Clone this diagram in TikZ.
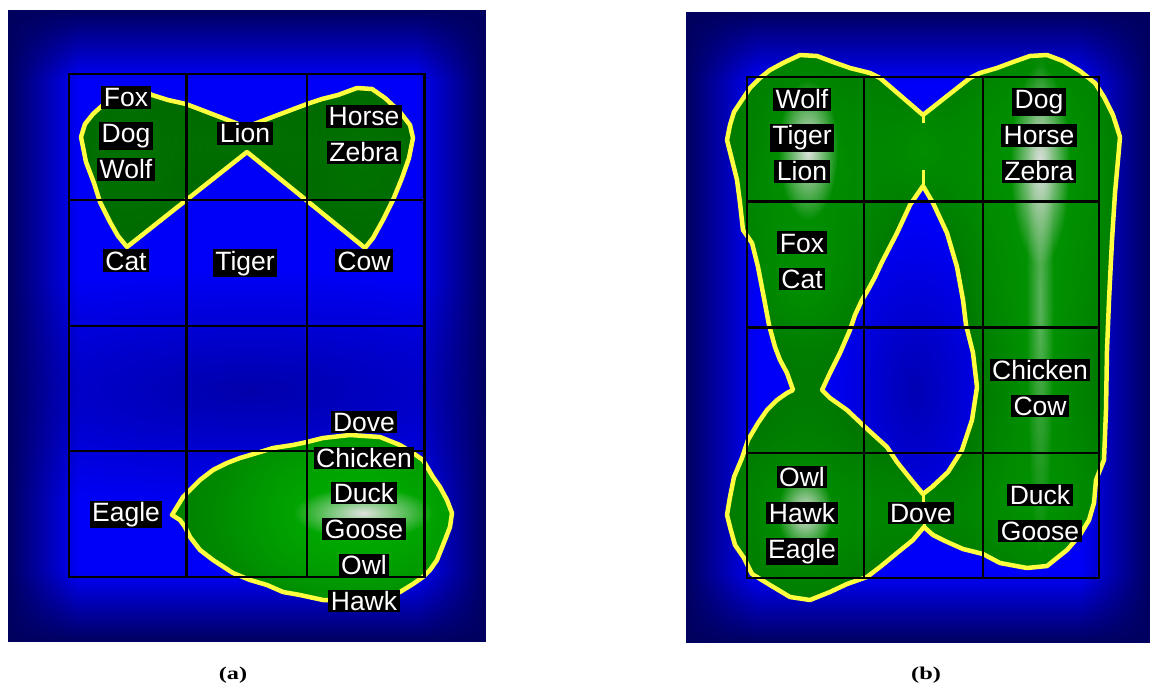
\documentclass[tikz,border=0pt]{standalone}
\usepackage{fontspec}
\setmainfont{Liberation Serif}
\newfontfamily\lblfont{Liberation Sans}
\usetikzlibrary{fadings}
\tikzfading[name=softspot, inner color=transparent!0, outer color=transparent!100]
\tikzfading[name=edgeL, left color=transparent!0, right color=transparent!100]
\tikzfading[name=edgeR, left color=transparent!100, right color=transparent!0]
\tikzfading[name=edgeT, top color=transparent!0, bottom color=transparent!100]
\tikzfading[name=edgeB, top color=transparent!100, bottom color=transparent!0]
\definecolor{gdark}{RGB}{0,100,0}
\definecolor{gmid}{RGB}{0,150,0}
\definecolor{gbright}{RGB}{0,175,0}
\definecolor{hl}{RGB}{225,225,225}
\definecolor{yel}{RGB}{255,255,64}
\definecolor{bcen}{RGB}{0,0,248}
\definecolor{bedge}{RGB}{0,0,95}
\begin{document}
\begin{tikzpicture}[x=1pt,y=-1pt,
  lbl/.style={fill=black,text=white,font=\lblfont\fontsize{26.5}{26.5}\selectfont,inner xsep=2.5pt,inner ysep=1.5pt,text height=19pt,anchor=base},
  gridline/.style={draw=black,line width=2.6pt},
  outline/.style={draw=yel,line width=4.5pt,line join=round},
  captext/.style={font=\bfseries\fontsize{18}{18}\selectfont}]
\useasboundingbox (0,0) rectangle (1154,687);
\fill[white] (0,0) rectangle (1154,687);
% ---------- backgrounds
\def\bgA{%
\fill[bcen] (8,10) rectangle (486,642);
\fill[bedge,path fading=softspot,opacity=0.5] (250,390) ellipse (430 and 120);
\fill[bedge,path fading=edgeL] (8,10) rectangle (78,642);
\fill[bedge,path fading=edgeR] (416,10) rectangle (486,642);
\fill[bedge,path fading=edgeT] (8,10) rectangle (486,80);
\fill[bedge,path fading=edgeB] (8,572) rectangle (486,642);}
\def\bgB{%
\fill[bcen] (686,12) rectangle (1150,643);
\fill[bedge,path fading=edgeL] (686,12) rectangle (756,643);
\fill[bedge,path fading=edgeR] (1080,12) rectangle (1150,643);
\fill[bedge,path fading=edgeT] (686,12) rectangle (1150,82);
\fill[bedge,path fading=edgeB] (686,573) rectangle (1150,643);}
\begin{scope}
\clip (8,10) rectangle (486,642);
\bgA
\end{scope}
\begin{scope}
\clip (686,12) rectangle (1150,643);
\bgB
\end{scope}
% ---------- (a) top region
\def\aTop{(81,137) -- (85,124) -- (93,114) -- (104,104) -- (117,95) -- (130,89) -- (140,89) -- (152,95) -- (168,100) -- (186,104) -- (246,127) -- (307,104) -- (322,99) -- (338,95) -- (357,88) -- (372,89) -- (385,98) -- (400,112) -- (410,125) -- (413,138) -- (409,158) -- (402,178) -- (393,200) -- (383,220) -- (373,238) -- (365,248) -- (247,152) -- (127,247) -- (118,236) -- (110,222) -- (100,202) -- (94,183) -- (86,162) -- cycle}
\begin{scope}
\clip \aTop;
\fill[gdark] (60,60) rectangle (430,260);
\fill[gmid,path fading=softspot,opacity=0.3] (128,160) ellipse (110 and 150);
\fill[gmid,path fading=softspot,opacity=0.3] (362,160) ellipse (110 and 150);
\fill[gmid,path fading=softspot,opacity=0.25] (246,140) ellipse (90 and 60);
\end{scope}
\draw[outline] \aTop;
% ---------- (a) bottom lens
\def\aBot{(172,515) -- (183,497) -- (190,490) -- (200,480) -- (213,470) -- (227,463) -- (240,458) -- (257,453) -- (273,448) -- (293,445) -- (307,442) -- (323,438) -- (350,435) -- (380,437) -- (400,445) -- (413,453) -- (423,460) -- (433,477) -- (440,487) -- (447,500) -- (452,513) -- (450,527) -- (445,540) -- (437,560) -- (430,570) -- (423,577) -- (413,584) -- (400,592) -- (367,601) -- (323,600) -- (300,595) -- (283,592) -- (267,585) -- (250,580) -- (233,573) -- (213,560) -- (200,550) -- (190,537) -- (185,527) -- (180,520) -- cycle}
\begin{scope}
\clip \aBot;
\fill[gdark] (160,420) rectangle (470,620);
\fill[gbright,path fading=softspot] (360,513) ellipse (300 and 190);
\fill[gbright,path fading=softspot,opacity=0.6] (360,513) ellipse (140 and 110);
\fill[hl,path fading=softspot] (363,513) ellipse (70 and 26);
\end{scope}
\draw[outline] \aBot;
% ---------- (b) region
\def\bOut{(727,140) -- (730,125) -- (734,112) -- (742,100) -- (750,88) -- (760,78) -- (770,70) -- (785,62) -- (800,55) -- (817,56) -- (833,62) -- (850,68) -- (870,73) -- (880,78) -- (923,115) -- (970,78) -- (980,73) -- (997,68) -- (1013,62) -- (1030,56) -- (1047,55) -- (1063,61) -- (1080,71) -- (1095,83) -- (1104,97) -- (1113,115) -- (1120,137) -- (1118,160) -- (1115,193) -- (1112,240) -- (1109,300) -- (1107,350) -- (1106,410) -- (1104,460) -- (1096,480) -- (1094,503) -- (1089,520) -- (1080,535) -- (1067,550) -- (1047,566) -- (1027,568) -- (1000,563) -- (983,554) -- (963,549) -- (945,541) -- (933,535) -- (924,527) -- (913,540) -- (897,553) -- (880,567) -- (867,577) -- (847,584) -- (830,592) -- (810,600) -- (790,597) -- (770,585) -- (752,574) -- (744,558) -- (735,545) -- (730,527) -- (727,515) -- (730,497) -- (734,477) -- (742,458) -- (748,440) -- (758,423) -- (767,410) -- (777,400) -- (787,393) -- (793,390) -- (787,373) -- (780,360) -- (775,347) -- (769,325) -- (763,293) -- (758,267) -- (752,243) -- (743,230) -- (740,203) -- (737,180) -- (732,160) -- cycle}
\def\bHole{(923,186) -- (933,203) -- (947,233) -- (957,267) -- (963,300) -- (966,325) -- (973,353) -- (977,387) -- (972,420) -- (962,450) -- (948,472) -- (932,487) -- (923,494) -- (913,482) -- (897,462) -- (887,447) -- (865,427) -- (847,410) -- (830,398) -- (822,390) -- (830,373) -- (840,353) -- (850,330) -- (855,315) -- (862,300) -- (868,290) -- (875,277) -- (882,262) -- (897,233) -- (910,205) -- cycle}
\begin{scope}
\clip \bOut;
\fill[gdark] (720,50) rectangle (1125,605);
\fill[gmid,path fading=softspot] (805,150) ellipse (140 and 230);
\fill[gmid,path fading=softspot] (1040,160) ellipse (140 and 230);
\fill[gmid,path fading=softspot] (1040,340) ellipse (110 and 460);
\fill[gmid,path fading=softspot,opacity=0.8] (923,150) ellipse (100 and 120);
\fill[gmid,path fading=softspot,opacity=0.8] (805,280) ellipse (110 and 160);
\fill[gmid,path fading=softspot] (805,513) ellipse (140 and 170);
\fill[gmid,path fading=softspot,opacity=0.7] (923,512) ellipse (100 and 80);
\fill[gmid,path fading=softspot,opacity=0.8] (1040,505) ellipse (120 and 120);
\fill[hl,path fading=softspot] (808,150) ellipse (30 and 70);
\fill[hl,path fading=softspot] (1040,165) ellipse (30 and 100);
\fill[hl,path fading=softspot,opacity=0.4] (1040,300) ellipse (14 and 260);
\fill[hl,path fading=softspot] (805,513) ellipse (28 and 40);
\end{scope}
\draw[outline] \bOut;
\begin{scope}
\clip \bHole;
\bgB
\fill[bedge,path fading=softspot,opacity=0.45] (915,390) ellipse (90 and 170);
\end{scope}
\draw[outline] \bHole;
\draw[yel,line width=3pt] (923,113) -- (923,123) (923,186) -- (923,170) (923,494) -- (923,503) (924,527) -- (924,518);
% ---------- grids
\draw[gridline] (69,74) rectangle (424.5,577);
\draw[gridline] (186.5,74) -- (186.5,577) (307,74) -- (307,577)
  (69,200) -- (424.5,200) (69,326) -- (424.5,326) (69,451) -- (424.5,451);
\draw[gridline] (747,77) rectangle (1099,578);
\draw[gridline] (864,77) -- (864,578) (983,77) -- (983,578)
  (747,201.5) -- (1099,201.5) (747,327.5) -- (1099,327.5) (747,453) -- (1099,453);
% ---------- labels (a)
\node[lbl] (afox) at (126,107) {Fox};
\node[lbl] (adog) at (126,143) {Dog};
\node[lbl] (awolf) at (126,179) {Wolf};
\node[lbl] (alion) at (245,143) {Lion};
\node[lbl] (ahorse) at (364,126) {Horse};
\node[lbl] (azebra) at (364,162) {Zebra};
\node[lbl] (acat) at (126,270) {Cat};
\node[lbl] (atiger) at (245,270) {Tiger};
\node[lbl] (acow) at (364,270) {Cow};
\node[lbl] (adove) at (364,431) {Dove};
\node[lbl] (achicken) at (364,467) {Chicken};
\node[lbl] (aduck) at (364,502) {Duck};
\node[lbl] (agoose) at (364,538) {Goose};
\node[lbl] (aowl) at (364,574) {Owl};
\node[lbl] (ahawk) at (364,610) {Hawk};
\node[lbl] (aeagle) at (126,521) {Eagle};
% ---------- labels (b)
\node[lbl] (bwolf) at (802,109) {Wolf};
\node[lbl] (btiger) at (802,145) {Tiger};
\node[lbl] (blion) at (802,181) {Lion};
\node[lbl] (bdog) at (1039,109) {Dog};
\node[lbl] (bhorse) at (1039,145) {Horse};
\node[lbl] (bzebra) at (1039,181) {Zebra};
\node[lbl] (bfox) at (802,252) {Fox};
\node[lbl] (bcat) at (802,288) {Cat};
\node[lbl] (bchicken) at (1040,379) {Chicken};
\node[lbl] (bcow) at (1040,415) {Cow};
\node[lbl] (bowl) at (802,486) {Owl};
\node[lbl] (bhawk) at (802,522) {Hawk};
\node[lbl] (beagle) at (802,558) {Eagle};
\node[lbl] (bdove) at (921,522) {Dove};
\node[lbl] (bduck) at (1040,504) {Duck};
\node[lbl] (bgoose) at (1040,540) {Goose};
% ---------- captions
\node[captext] (capa) at (233,675.5) {\scalebox{1.35}[1]{(a)}};
\node[captext] (capb) at (926,675.5) {\scalebox{1.35}[1]{(b)}};
\end{tikzpicture}
\end{document}
